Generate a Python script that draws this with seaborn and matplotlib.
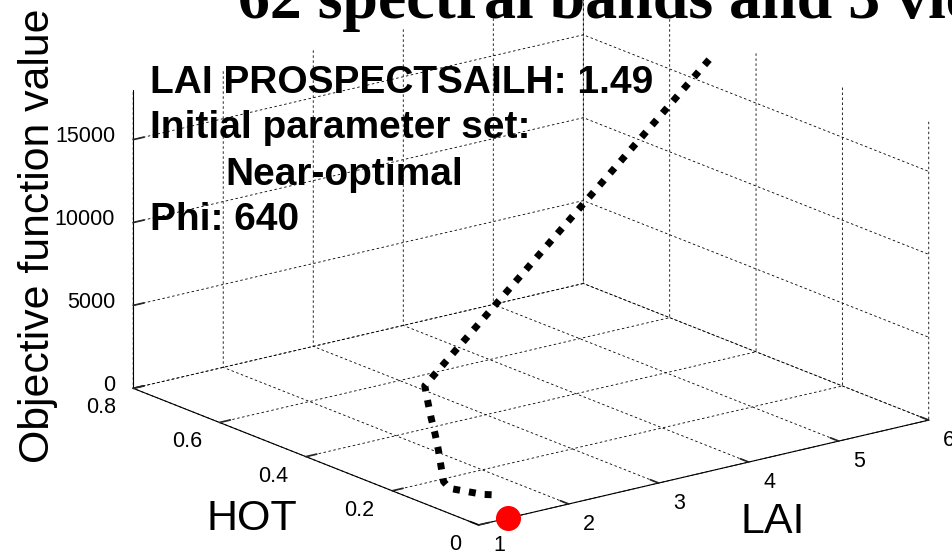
import matplotlib
matplotlib.use("Agg")
import matplotlib.pyplot as plt
from matplotlib.transforms import ScaledTranslation
import seaborn as sns

# Optimisation trajectory: LAI, hot-spot parameter and objective function value
lai = [5.56, 1.15, 1.15, 1.17, 1.18, 1.20, 1.20, 1.20, 1.21, 1.30, 1.38, 1.49]
hot = [0.417, 0.156, 0.148, 0.145, 0.138, 0.135, 0.129, 0.123, 0.111, 0.092, 0.068, 0.053]
phi = [18000, 6600, 5600, 4700, 3800, 2900, 2000, 1100, 800, 700, 660, 640]

# Reference solution marked in red
lai_ref = [1.33]
hot_ref = [0.0]
phi_ref = [0]

lai_ticks = [1, 2, 3, 4, 5, 6]
lai_tick_labels = ["1", "2", "3", "4", "5", "6"]
hot_ticks = [0, 0.2, 0.4, 0.6, 0.8]
hot_tick_labels = ["0", "0.2", "0.4", "0.6", "0.8"]
phi_ticks = [0, 5000, 10000, 15000]
phi_tick_labels = ["0", "5000", "10000", "15000"]

sns.set_theme(style="white")
plt.rcParams["font.family"] = ["Liberation Sans", "DejaVu Sans"]
plt.rcParams["text.color"] = "black"

fig = plt.figure(figsize=(9.53, 5.52), dpi=100)
ax = fig.add_axes([0.0878, -0.2723, 0.914, 1.578], projection="3d",
                  proj_type="ortho")
ax.view_init(elev=17.67, azim=-127.5)
ax.set_box_aspect((1, 1, 0.552), zoom=0.96)
ax.set_xlim(1, 6)
ax.set_ylim(0, 0.8)
ax.set_zlim(0, 18000)

ax.set_xticks(lai_ticks)
ax.set_yticks(hot_ticks)
ax.set_zticks(phi_ticks)

for axis in (ax.xaxis, ax.yaxis, ax.zaxis):
    # tick labels are written below as annotations in data space
    axis.set_tick_params(labelbottom=False, labeltop=False)
    for tick in axis.get_major_ticks():
        tick.label1.set_visible(False)
        tick.label2.set_visible(False)
    axis.label.set_visible(False)
    axis.get_offset_text().set_visible(False)
    axis.set_pane_color((1, 1, 1, 0))
    axis.pane.set_edgecolor("none")
    axis.line.set_color("black")
    axis.line.set_linewidth(0.8)
    axis._axinfo["grid"].update(color="black", linewidth=0.6,
                                linestyle=(0, (3, 3)))
    axis._axinfo["tick"]["inward_factor"] = 0.0
    axis._axinfo["tick"]["outward_factor"] = 0.3
    axis._axinfo["tick"]["color"] = "black"
ax.grid(True)


def shifted(dx_pt, dy_pt):
    """Data transform nudged by a fixed offset in points."""
    return ax.transData + ScaledTranslation(dx_pt / 72, dy_pt / 72,
                                            fig.dpi_scale_trans)


tick_font = dict(fontsize=15.5, color="black", va="baseline")
x0, x1 = ax.get_xlim()
y0, y1 = ax.get_ylim()
for v, s in zip(lai_ticks, lai_tick_labels):
    ax.text(v, y0, 0, s, ha="left", transform=shifted(10.4, -18.4),
            **tick_font)
for v, s in zip(hot_ticks, hot_tick_labels):
    ax.text(x0, v, 0, s, ha="right", transform=shifted(-12.6, -18.0),
            **tick_font)
for v, s in zip(phi_ticks, phi_tick_labels):
    ax.text(x0, y1, v, s, ha="right", transform=shifted(-13.0, -1.8),
            **tick_font)

# trajectory of the optimiser and the reference point
ax.plot(lai, hot, phi, color="black", linewidth=5, linestyle=(0, (1, 1.3)))
ax.plot(lai_ref, hot_ref, phi_ref, "o", color="red", markersize=17,
        markeredgecolor="red")

# titles and labels
fig.text(0.2497, 0.9674, "62 spectral bands and 3 view angles",
         family=["Liberation Serif", "DejaVu Serif"], fontweight="bold",
         fontsize=46, va="baseline", ha="left", color="black")
fig.text(0.0514, 0.1612, "Objective function value", fontsize=30.8,
         rotation=90, rotation_mode="anchor", ha="left", va="baseline",
         color="black")
fig.text(0.2172, 0.0399, "HOT", fontsize=31, va="baseline", ha="left",
         color="black")
fig.text(0.7765, 0.0344, "LAI", fontsize=31, va="baseline", ha="left",
         color="black")

info_lines = [
    (0.157, 0.8315, "LAI PROSPECTSAILH: 1.49"),
    (0.157, 0.7500, "Initial parameter set:"),
    (0.237, 0.6649, "Near-optimal"),
    (0.157, 0.5833, "Phi: 640"),
]
for x, y, s in info_lines:
    fig.text(x, y, s, fontsize=28, fontweight="bold", va="baseline",
             ha="left", color="black")

fig.savefig("out.png", dpi=100)
